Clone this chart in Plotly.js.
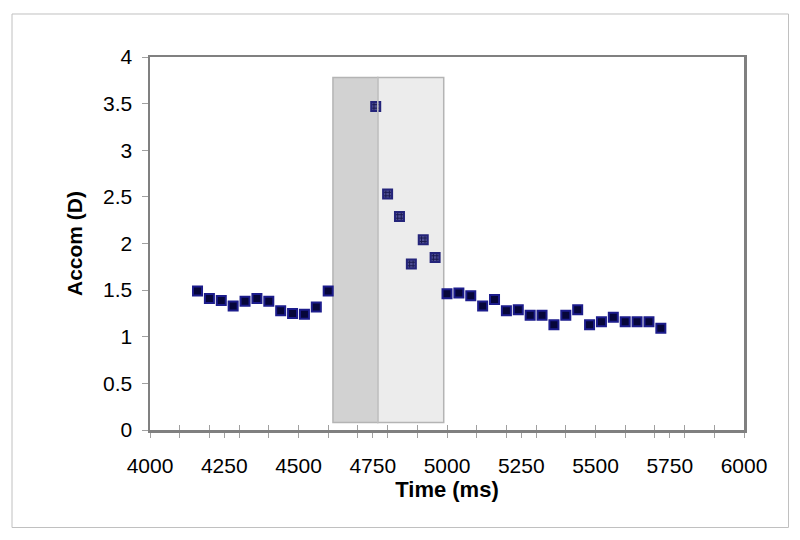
<!DOCTYPE html>
<html>
<head>
<meta charset="utf-8">
<script src="https://cdn.plot.ly/plotly-3.0.1.min.js"></script>
<style>
  html, body { margin: 0; padding: 0; background: #ffffff; }
  #chart { width: 800px; height: 540px; }
</style>
</head>
<body>
<div id="chart"></div>
<script>
// Pre-stimulus samples
var preTime = [4160, 4200, 4240, 4280, 4320, 4360, 4400, 4440, 4480, 4520, 4560, 4600];
var preAccom = [1.49, 1.41, 1.39, 1.33, 1.38, 1.41, 1.38, 1.28, 1.25, 1.24, 1.32, 1.49];
// Samples during the stimulus window
var midTime = [4760, 4800, 4840, 4880, 4920, 4960];
var midAccom = [3.47, 2.53, 2.29, 1.78, 2.04, 1.85];
// Post-stimulus samples
var postTime = [5000, 5040, 5080, 5120, 5160, 5200, 5240, 5280, 5320, 5360, 5400, 5440, 5480, 5520, 5560, 5600, 5640, 5680, 5720];
var postAccom = [1.46, 1.47, 1.44, 1.33, 1.40, 1.28, 1.29, 1.23, 1.23, 1.13, 1.23, 1.29, 1.13, 1.16, 1.21, 1.16, 1.16, 1.16, 1.09];
// Shaded windows (ms / D)
var windowA = [4616, 4767];
var windowB = [4767, 4989];
var windowY = [0.08, 3.78];
var xTickVals = [4000, 4250, 4500, 4750, 5000, 5250, 5500, 5750, 6000];
var yTickVals = [0, 0.5, 1, 1.5, 2, 2.5, 3, 3.5, 4];

var font = 'Liberation Sans, Arial, sans-serif';
var solidMarker = { symbol: 'square', size: 9, color: '#06063a', line: { color: '#1c1c8c', width: 2 } };

var traces = [
  { x: preTime, y: preAccom, type: 'scatter', mode: 'markers', marker: solidMarker, showlegend: false, hoverinfo: 'x+y' },
  { x: postTime, y: postAccom, type: 'scatter', mode: 'markers', marker: solidMarker, showlegend: false, hoverinfo: 'x+y' },
  { x: midTime, y: midAccom, type: 'scatter', mode: 'markers',
    marker: { symbol: 'square', size: 9, color: '#4e4e92', line: { color: '#24247a', width: 2 } },
    showlegend: false, hoverinfo: 'x+y' },
  { x: midTime, y: midAccom, type: 'scatter', mode: 'markers',
    marker: { symbol: 'hash-open', size: 7, color: '#1a1a50', line: { color: '#1a1a50', width: 1 } },
    showlegend: false, hoverinfo: 'skip' },
  // overlay axis for ticks crossing the bottom line
  { x: [4000, 6000], y: [0, 0], xaxis: 'x2', type: 'scatter', mode: 'markers', marker: { opacity: 0 }, showlegend: false, hoverinfo: 'skip' }
];

var layout = {
  width: 800, height: 540,
  margin: { l: 150, r: 56, t: 57, b: 110, pad: 0 },
  paper_bgcolor: '#ffffff', plot_bgcolor: '#ffffff',
  font: { family: font, size: 21, color: '#000000' },
  xaxis: {
    range: [4000, 6000], tickmode: 'array', tickvals: xTickVals,
    ticks: 'outside', ticklen: 5, tickwidth: 1, tickcolor: '#a0a0a0',
    minor: { dtick: 100, tick0: 4000, ticks: 'outside', ticklen: 5, tickcolor: '#a0a0a0', showgrid: false },
    showline: true, linecolor: '#808080', linewidth: 2.5, mirror: true,
    showgrid: false, zeroline: false,
    ticklabelstandoff: 10,
    tickfont: { family: font, size: 21 },
    title: { text: '<b>Time (ms)</b>', font: { family: font, size: 22 }, standoff: 6 }
  },
  xaxis2: {
    overlaying: 'x', range: [4000, 6000], side: 'bottom', anchor: 'y',
    tickmode: 'linear', tick0: 4000, dtick: 100, ticks: 'inside', ticklen: 5, tickcolor: '#a0a0a0',
    showticklabels: false, showline: false, showgrid: false, zeroline: false
  },
  yaxis: {
    range: [0, 4], tickmode: 'array', tickvals: yTickVals,
    ticks: 'outside', ticklen: 6, tickwidth: 1, tickcolor: '#a0a0a0',
    showline: true, linecolor: '#808080', linewidth: 2.5, mirror: true,
    showgrid: false, zeroline: false,
    ticklabelstandoff: 5,
    tickfont: { family: font, size: 21 },
    title: { text: '<b>Accom (D)</b>', font: { family: font, size: 21 }, standoff: 15 }
  },
  shapes: [
    { type: 'rect', xref: 'x', yref: 'y', x0: windowA[0], x1: windowA[1], y0: windowY[0], y1: windowY[1],
      fillcolor: '#d2d2d2', line: { color: '#b4b4b4', width: 1.5 }, layer: 'below' },
    { type: 'rect', xref: 'x', yref: 'y', x0: windowB[0], x1: windowB[1], y0: windowY[0], y1: windowY[1],
      fillcolor: '#ececec', line: { color: '#b4b4b4', width: 1.5 }, layer: 'below' },
    { type: 'line', xref: 'x', yref: 'y', x0: windowB[0], x1: windowB[0], y0: windowY[0], y1: windowY[1],
      line: { color: '#c4c4c4', width: 1.5 }, layer: 'above' },
    { type: 'rect', xref: 'paper', yref: 'paper', x0: -0.2323, x1: 1.0749, y0: -0.2614, y1: 1.1153,
      fillcolor: 'rgba(0,0,0,0)', line: { color: '#c0c0c0', width: 1 }, layer: 'below' }
  ]
};

Plotly.newPlot('chart', traces, layout, { staticPlot: true, displayModeBar: false });
</script>
</body>
</html>
